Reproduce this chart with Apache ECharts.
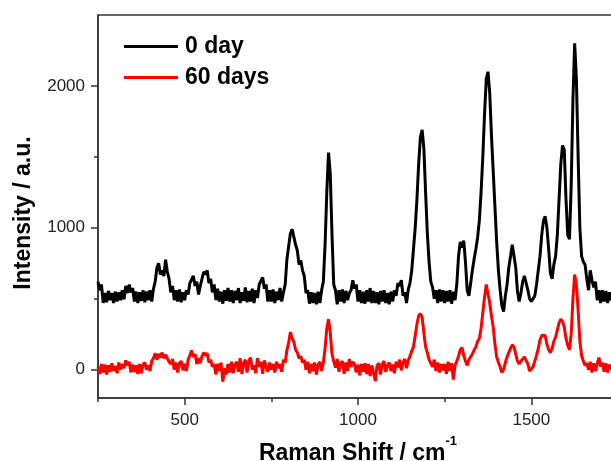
<!DOCTYPE html>
<html>
<head>
<meta charset="utf-8">
<script src="https://cdn.jsdelivr.net/npm/echarts@6/dist/echarts.min.js"></script>
<style>
  html, body { margin: 0; padding: 0; background: #ffffff; }
  #chart { width: 611px; height: 461px; }
</style>
</head>
<body>
<div id="chart"></div>
<script>
// Raman shift sampling positions (cm^-1)
const shifts = [
  250,255,260,265,270,275,280,285,290,295,
  300,305,310,315,320,325,330,335,340,345,
  350,355,360,365,370,375,380,385,390,395,
  400,405,410,415,420,425,430,435,440,445,
  450,455,460,465,470,475,480,485,490,495,
  500,505,510,515,520,525,530,535,540,545,
  550,555,560,565,570,575,580,585,590,595,
  600,605,610,615,620,625,630,635,640,645,
  650,655,660,665,670,675,680,685,690,695,
  700,705,710,715,720,725,730,735,740,745,
  750,755,760,765,770,775,780,785,790,795,
  800,805,810,815,820,825,830,835,840,845,
  850,855,860,865,870,875,880,885,890,895,
  900,905,910,915,920,925,930,935,940,945,
  950,955,960,965,970,975,980,985,990,995,
  1000,1005,1010,1015,1020,1025,1030,1035,1040,1045,
  1050,1055,1060,1065,1070,1075,1080,1085,1090,1095,
  1100,1105,1110,1115,1120,1125,1130,1135,1140,1145,
  1150,1155,1160,1165,1170,1175,1180,1185,1190,1195,
  1200,1205,1210,1215,1220,1225,1230,1235,1240,1245,
  1250,1255,1260,1265,1270,1275,1280,1285,1290,1295,
  1300,1305,1310,1315,1320,1325,1330,1335,1340,1345,
  1350,1355,1360,1365,1370,1375,1380,1385,1390,1395,
  1400,1405,1410,1415,1420,1425,1430,1435,1440,1445,
  1450,1455,1460,1465,1470,1475,1480,1485,1490,1495,
  1500,1505,1510,1515,1520,1525,1530,1535,1540,1545,
  1550,1555,1560,1565,1570,1575,1580,1585,1590,1595,
  1600,1605,1610,1615,1620,1625,1630,1635,1640,1645,
  1650,1655,1660,1665,1670,1675,1680,1685,1690,1695,
  1700,1705,1710,1715,1720,1725,1730,1735,1740,1745,
  1750
];

// Intensity, 0 day
const day0 = [
  620,560,600,470,540,475,555,490,540,470,
  550,480,545,490,560,495,590,540,600,545,
  575,480,550,470,545,485,560,475,550,490,
  560,480,570,620,720,750,670,700,660,775,
  690,640,545,590,490,560,480,565,475,545,
  490,560,530,610,600,660,590,620,530,590,
  640,690,670,700,610,640,545,600,490,570,
  480,550,465,560,485,575,480,560,470,555,
  490,575,470,545,485,580,475,555,480,570,
  470,560,505,600,590,650,570,600,480,560,
  480,565,470,550,490,575,480,545,600,780,
  870,960,990,1000,880,840,740,770,700,660,
  540,560,465,545,470,540,460,550,470,560,
  620,880,1250,1530,1380,950,600,560,460,560,
  480,565,470,555,490,540,560,630,570,600,
  480,560,470,550,465,560,480,575,470,555,
  470,545,460,555,480,560,470,540,460,550,
  480,560,520,610,590,630,520,545,470,565,
  610,700,850,1000,1200,1450,1640,1690,1560,1250,
  960,760,620,580,500,560,470,565,480,560,
  470,555,480,560,465,550,490,600,800,900,
  860,910,760,560,520,610,700,780,850,930,
  1050,1250,1500,1800,2050,2100,1950,1650,1400,1150,
  900,700,560,450,410,520,600,720,800,880,
  890,720,550,480,540,620,660,670,560,500,
  480,470,520,600,700,800,950,1050,1080,1000,
  850,680,640,740,800,950,1200,1450,1580,1550,
  1200,950,920,1300,1900,2300,2050,1500,1000,800,
  760,740,640,560,700,630,580,620,490,560,
  470,560,480,555,470,545,490,560,470,540,
  520
];

// Intensity, 60 days
const day60 = [
  20,-30,40,-20,35,-35,30,-15,45,-10,
  25,-25,50,0,40,10,65,30,55,-20,
  35,-15,30,-30,40,-25,35,50,0,30,
  -10,60,80,115,70,110,85,120,80,105,
  110,55,40,75,0,50,-20,45,60,-5,
  40,-10,70,100,135,90,110,40,80,45,
  95,120,100,115,50,70,20,40,-35,40,
  -10,50,-85,10,-35,40,-20,55,-25,35,
  55,-15,80,-30,45,70,-20,60,85,0,
  30,-25,80,20,55,-30,65,20,-15,50,
  0,40,-20,55,10,40,-15,70,50,140,
  190,265,220,195,140,120,80,95,50,70,
  0,55,-25,40,-10,50,-35,35,55,-10,
  50,150,290,355,260,110,60,15,75,-15,
  45,60,-30,50,-10,75,20,55,40,-20,
  35,-40,40,-15,45,-30,40,-45,30,-25,
  -80,30,45,-35,40,60,-15,30,50,-10,
  35,-25,55,15,70,-5,50,75,10,65,
  95,130,160,240,320,380,395,370,260,160,
  120,70,80,20,70,-10,50,-20,40,-5,
  40,-30,55,-10,45,-70,30,60,95,140,
  155,100,60,30,70,90,110,140,160,200,
  220,290,400,510,600,595,470,380,300,180,
  90,50,20,-20,0,50,90,120,150,175,
  160,110,60,40,60,70,90,100,40,-10,
  -20,20,60,100,150,210,240,250,240,180,
  140,120,150,200,230,280,330,355,340,300,
  220,170,140,250,500,670,600,420,200,100,
  60,30,45,0,55,-20,45,-10,40,85,
  20,50,-15,45,-20,35,0,50,-25,30,
  10
];

const seriesNames = ['0 day', '60 days'];
const seriesColors = ['#000000', '#ff0000'];

const xLabelValues = [500, 1000, 1500];
const xMinorValues = [250, 750, 1250, 1750];
const yLabelValues = [0, 1000, 2000];
const yMinorValues = [500, 1500];

const FONT = '"Liberation Sans", Arial, sans-serif';
const AXIS_COLOR = '#333333';

const chart = echarts.init(document.getElementById('chart'), null, { renderer: 'canvas' });

const axisLine = { show: true, onZero: false, lineStyle: { color: AXIS_COLOR, width: 1.5 } };
const hiddenLine = { show: false, onZero: false };
const plain = v => String(v);

chart.setOption({
  animation: false,
  backgroundColor: '#ffffff',
  grid: {
    left: 98, top: 15, width: 520, bottom: 63,
    outerBoundsMode: 'none',
    containLabel: false,
    show: true, borderColor: AXIS_COLOR, borderWidth: 1.5, backgroundColor: 'transparent'
  },
  legend: {
    orient: 'vertical',
    left: 124, top: 35, padding: 0,
    itemWidth: 54, itemHeight: 3, itemGap: 8,
    icon: 'rect',
    textStyle: { fontFamily: FONT, fontSize: 23, fontWeight: 'bold', color: '#000', lineHeight: 22, padding: [0, 0, 0, 2] },
    data: seriesNames
  },
  xAxis: [
    {
      type: 'value', min: 250, max: 1750, position: 'bottom',
      axisLine: axisLine,
      axisTick: { show: true, inside: false, customValues: xLabelValues, length: 7, lineStyle: { color: AXIS_COLOR, width: 1.5 } },
      axisLabel: { customValues: xLabelValues, formatter: plain, fontFamily: FONT, fontSize: 17, color: '#222', margin: 14 },
      splitLine: { show: false },
      name: '{t|Raman Shift / cm}{s|-1}',
      nameLocation: 'middle', nameGap: 37,
      nameTextStyle: {
        rich: {
          t: { fontFamily: FONT, fontSize: 23, fontWeight: 'bold', color: '#000', lineHeight: 30, verticalAlign: 'bottom' },
          s: { fontFamily: FONT, fontSize: 13, fontWeight: 'bold', color: '#000', lineHeight: 13, verticalAlign: 'top' }
        }
      }
    },
    {
      type: 'value', min: 250, max: 1750, position: 'bottom',
      axisLine: hiddenLine,
      axisTick: { show: true, inside: false, customValues: xMinorValues, length: 4, lineStyle: { color: AXIS_COLOR, width: 1.5 } },
      axisLabel: { show: false },
      splitLine: { show: false }
    }
  ],
  yAxis: [
    {
      type: 'value', min: -200, max: 2500, position: 'left',
      axisLine: axisLine,
      axisTick: { show: true, inside: false, customValues: yLabelValues, length: 7, lineStyle: { color: AXIS_COLOR, width: 1.5 } },
      axisLabel: { customValues: yLabelValues, formatter: plain, fontFamily: FONT, fontSize: 17, color: '#222', margin: 13 },
      splitLine: { show: false },
      name: 'Intensity / a.u.',
      nameLocation: 'middle', nameGap: 63,
      nameTextStyle: { fontFamily: FONT, fontSize: 23, fontWeight: 'bold', color: '#000', padding: [0, 13, 0, 0] }
    },
    {
      type: 'value', min: -200, max: 2500, position: 'left',
      axisLine: hiddenLine,
      axisTick: { show: true, inside: false, customValues: yMinorValues, length: 4, lineStyle: { color: AXIS_COLOR, width: 1.5 } },
      axisLabel: { show: false },
      splitLine: { show: false }
    }
  ],
  series: [
    {
      name: seriesNames[0], type: 'line', xAxisIndex: 0, yAxisIndex: 0,
      data: shifts.map((x, i) => [x, day0[i]]),
      showSymbol: false, symbol: 'none', smooth: false,
      color: seriesColors[0],
      lineStyle: { color: seriesColors[0], width: 3 },
      clip: true
    },
    {
      name: seriesNames[1], type: 'line', xAxisIndex: 0, yAxisIndex: 0,
      data: shifts.map((x, i) => [x, day60[i]]),
      showSymbol: false, symbol: 'none', smooth: false,
      color: seriesColors[1],
      lineStyle: { color: seriesColors[1], width: 3 },
      clip: true
    }
  ]
});
</script>
</body>
</html>
